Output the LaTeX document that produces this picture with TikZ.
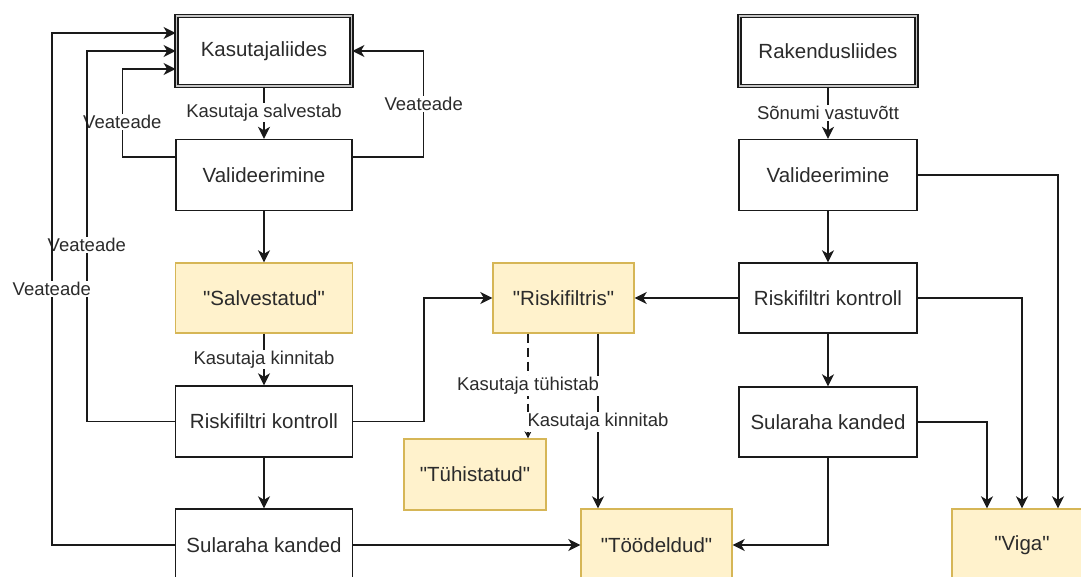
\documentclass[tikz,border=0pt]{standalone}
\usepackage{fontspec}
\setmainfont{Liberation Sans}[Ligatures=TeXOff]
\usetikzlibrary{arrows.meta,calc}
\definecolor{ink}{HTML}{1A1A1A}
\definecolor{txt}{HTML}{2B2B2B}
\definecolor{notefill}{HTML}{FFF2CC}
\definecolor{noteline}{HTML}{D6B656}

\begin{document}
\begin{tikzpicture}[x=1pt,y=-1pt,
  box/.style={draw=ink, line width=1.4pt, fill=white, text=txt,
    font=\fontsize{20.5}{24}\selectfont, inner sep=0pt,
    minimum width=177pt, minimum height=71pt},
  iface/.style={box, double=gray!45, double distance=1.1pt, line width=1.8pt},
  state/.style={box, draw=noteline, fill=notefill},
  lbl/.style={fill=white, text=txt, font=\fontsize{18.5}{22}\selectfont, inner sep=1pt},
  arr/.style={draw=ink, line width=1.5pt, -{Stealth[length=12pt,width=12pt,inset=3.5pt]}},
  dasharr/.style={draw=ink, line width=1.2pt, dash pattern=on 9pt off 5pt,
    -{Stealth[length=7pt,width=7pt]}},
]
\useasboundingbox (0,0) rectangle (1081,576);
\clip (0,0) rectangle (1081,576);
\fill[white] (0,0) rectangle (1081,576);

% user interface column
\node[iface, minimum width=175pt, minimum height=70pt] (K1) at (264,51) {Kasutajaliides};
\node[box, minimum width=176pt] (V1) at (264,175) {Valideerimine};
\node[state, minimum height=70pt] (S1) at (264,298) {"Salvestatud"};
\node[box] (R1) at (264,421.5) {Riskifiltri kontroll};
\node[box, minimum height=72pt] (U1) at (264,545) {Sularaha kanded};

% shared states
\node[state, minimum width=141pt, minimum height=70pt] (RF) at (563.5,298) {"Riskifiltris"};
\node[state, minimum width=142pt] (T) at (475,474.5) {"Tühistatud"};
\node[state, minimum width=151pt, minimum height=72pt] (D) at (656.5,545) {"Töödeldud"};

% application interface column
\node[iface, minimum width=177pt, minimum height=70pt] (K2) at (828,51) {Rakendusliides};
\node[box, minimum width=178pt] (V2) at (828,175) {Valideerimine};
\node[box, minimum width=178pt, minimum height=70pt] (R2) at (828,298) {Riskifiltri kontroll};
\node[box, minimum width=178pt, minimum height=70pt] (U2) at (828,422) {Sularaha kanded};
\node[state, minimum width=140pt, minimum height=72pt] (E) at (1022,545) {"Viga"};

% left column flow
\draw[arr] (K1.south) -- node[lbl]{Kasutaja salvestab} (V1.north);
\draw[arr] (V1.south) -- (S1.north);
\draw[arr] (S1.south) -- node[lbl]{Kasutaja kinnitab} (R1.north);
\draw[arr] (R1.south) -- (U1.north);

% error feedback to the user interface
\draw[arr] ([yshift=18pt]V1.west) -- ++(-53,0)
  |- node[lbl, pos=0.2]{Veateade} ([yshift=-18pt]K1.west);
\draw[arr] ([yshift=18pt]V1.east) -- ++(71,0)
  |- node[lbl, pos=0.25]{Veateade} (K1.east);
\draw[arr] (R1.west) -- ++(-88,0)
  |- node[lbl, pos=0.238]{Veateade} (K1.west);
\draw[arr] (U1.west) -- ++(-123,0)
  |- node[lbl, pos=0.25]{Veateade} ([yshift=18pt]K1.west);

% into the shared states
\draw[arr] (R1.east) -- ++(71,0) |- (RF.west);
\draw[arr] (U1.east) -- (D.west);

% decisions on the risk filter state
\coordinate (RFa) at ([xshift=-35.5pt]RF.south);
\coordinate (RFb) at ([xshift=34.5pt]RF.south);
\draw[dasharr] (RFa) -- (RFa |- T.north);
\draw[arr] (RFb) -- (RFb |- D.north);
\path (RFa) -- node[lbl]{Kasutaja tühistab} (RFa |- T.north);
\path (RFb) -- node[lbl, pos=0.506]{Kasutaja kinnitab} (RFb |- D.north);

% right column flow
\draw[arr] (K2.south) -- node[lbl]{Sõnumi vastuvõtt} (V2.north);
\draw[arr] (V2.south) -- (R2.north);
\draw[arr] (R2.south) -- (U2.north);
\draw[arr] (R2.west) -- (RF.east);
\draw[arr] (U2.south) |- (D.east);

% errors from the application side
\draw[arr] (V2.east) -| ([xshift=36pt]E.north);
\draw[arr] (R2.east) -| (E.north);
\draw[arr] (U2.east) -| ([xshift=-35pt]E.north);
\end{tikzpicture}
\end{document}
